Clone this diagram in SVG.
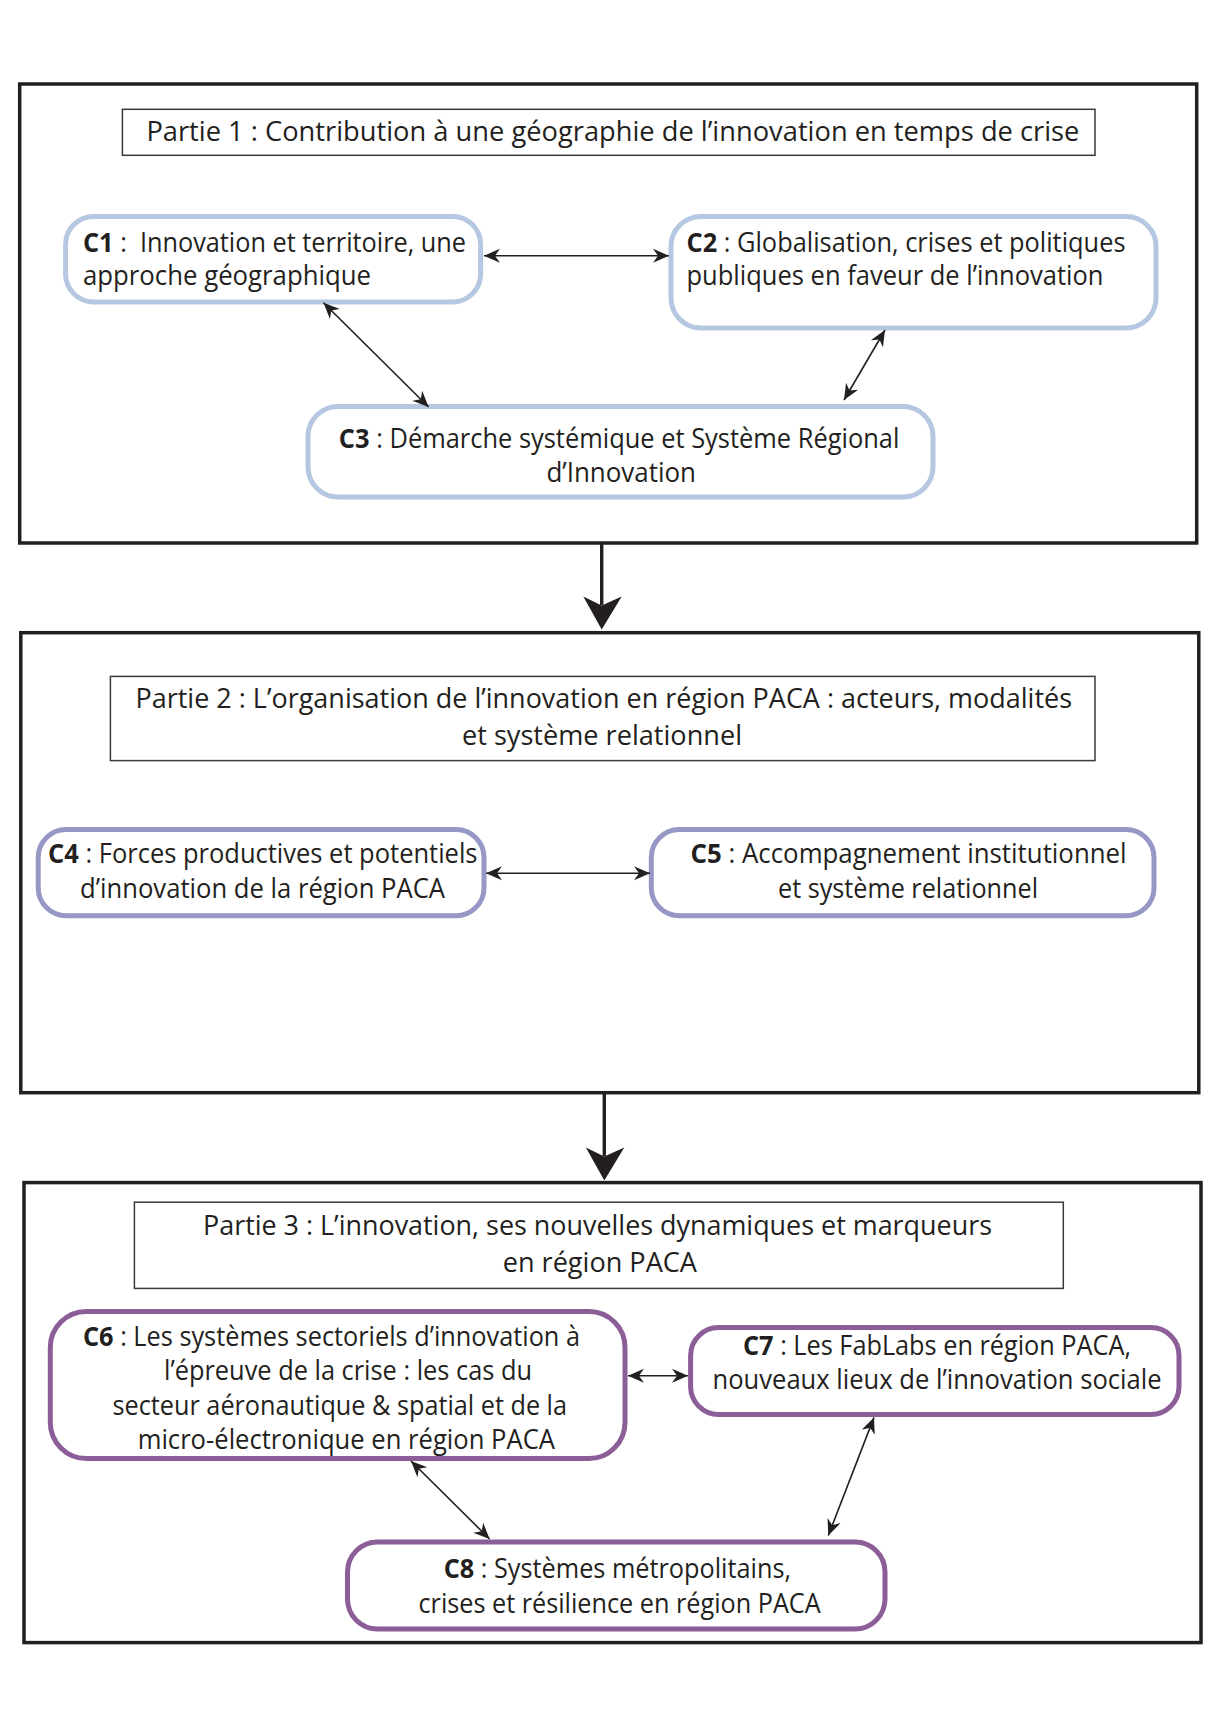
<svg xmlns="http://www.w3.org/2000/svg" width="1213" height="1714" viewBox="0 0 1213 1714">
<style>
.part{fill:none;stroke:#231f20;stroke-width:3.5}
.title{fill:#fff;stroke:#3a3a3a;stroke-width:1.5}
.c{fill:#fff;stroke-width:5}
.blue{stroke:#b6c8e1}
.lav{stroke:#9797c6}
.pur{stroke:#8c5e97}
text{font-family:"Open Sans","Liberation Sans",sans-serif;font-size:27px;fill:#231f20}
.b{font-weight:bold}
.conn{fill:none;stroke:#231f20;stroke-width:1.6}
.big{fill:none;stroke:#231f20;stroke-width:3.4}
</style>
<defs>
<marker id="ah" viewBox="-17 -8 19 16" markerWidth="19" markerHeight="16" refX="0" refY="0" orient="auto-start-reverse" markerUnits="userSpaceOnUse">
<path d="M0,0 L-16,-7 L-11,0 L-16,7 Z" fill="#231f20"/>
</marker>
</defs>
<rect width="1213" height="1714" fill="#fff"/>

<g id="partie1">
<rect class="part" x="19.7" y="84" width="1177" height="459"/>
<rect class="title" x="122.4" y="109.3" width="972.6" height="46"/>
<text x="146.4" y="141" textLength="933" lengthAdjust="spacingAndGlyphs">Partie 1 : Contribution à une géographie de l’innovation en temps de crise</text>
</g>
<g id="C1">
<rect class="c blue" x="65.6" y="216.4" width="415" height="85.5" rx="28"/>
<text x="83" y="251.5" textLength="383" lengthAdjust="spacingAndGlyphs"><tspan class="b">C1</tspan> :&#160; Innovation et territoire, une</text>
<text x="83" y="285" textLength="288" lengthAdjust="spacingAndGlyphs">approche géographique</text>
</g>
<g id="C2">
<rect class="c blue" x="671" y="216.4" width="485" height="111.6" rx="30"/>
<text x="686.5" y="251.5" textLength="439" lengthAdjust="spacingAndGlyphs"><tspan class="b">C2</tspan> : Globalisation, crises et politiques</text>
<text x="686.5" y="285" textLength="417" lengthAdjust="spacingAndGlyphs">publiques en faveur de l’innovation</text>
</g>
<g id="C3">
<rect class="c blue" x="308" y="406.5" width="625" height="90.5" rx="30"/>
<text x="338.8" y="448" textLength="560.6" lengthAdjust="spacingAndGlyphs"><tspan class="b">C3</tspan> : Démarche systémique et Système Régional</text>
<text x="546.4" y="482" textLength="149.6" lengthAdjust="spacingAndGlyphs">d’Innovation</text>
</g>

<g id="partie2">
<rect class="part" x="20.8" y="632.7" width="1178" height="460"/>
<rect class="title" x="110.4" y="676.4" width="984.6" height="84.2"/>
<text x="135.5" y="708" textLength="936.5" lengthAdjust="spacingAndGlyphs">Partie 2 : L’organisation de l’innovation en région PACA : acteurs, modalités</text>
<text x="462" y="745" textLength="280" lengthAdjust="spacingAndGlyphs">et système relationnel</text>
</g>
<g id="C4">
<rect class="c lav" x="38.2" y="829.6" width="445.8" height="86.2" rx="28"/>
<text x="48" y="863" textLength="429.5" lengthAdjust="spacingAndGlyphs"><tspan class="b">C4</tspan> : Forces productives et potentiels</text>
<text x="80" y="898" textLength="365" lengthAdjust="spacingAndGlyphs">d’innovation de la région PACA</text>
</g>
<g id="C5">
<rect class="c lav" x="651.3" y="829.6" width="502.7" height="86.2" rx="28"/>
<text x="690.6" y="863" textLength="436" lengthAdjust="spacingAndGlyphs"><tspan class="b">C5</tspan> : Accompagnement institutionnel</text>
<text x="778" y="898" textLength="260" lengthAdjust="spacingAndGlyphs">et système relationnel</text>
</g>

<g id="partie3">
<rect class="part" x="24" y="1182.6" width="1177" height="460"/>
<rect class="title" x="134.4" y="1202.2" width="928.9" height="86.2"/>
<text x="203" y="1235" textLength="789" lengthAdjust="spacingAndGlyphs">Partie 3 : L’innovation, ses nouvelles dynamiques et marqueurs</text>
<text x="502.7" y="1272" textLength="194.3" lengthAdjust="spacingAndGlyphs">en région PACA</text>
</g>
<g id="C6">
<rect class="c pur" x="50.3" y="1311.5" width="574.7" height="147" rx="36"/>
<text x="83" y="1346" textLength="497" lengthAdjust="spacingAndGlyphs"><tspan class="b">C6</tspan> : Les systèmes sectoriels d’innovation à</text>
<text x="164" y="1380" textLength="368" lengthAdjust="spacingAndGlyphs">l’épreuve de la crise : les cas du</text>
<text x="112.6" y="1415" textLength="454.4" lengthAdjust="spacingAndGlyphs">secteur aéronautique &amp; spatial et de la</text>
<text x="137.7" y="1449" textLength="417.3" lengthAdjust="spacingAndGlyphs">micro-électronique en région PACA</text>
</g>
<g id="C7">
<rect class="c pur" x="690.6" y="1327.5" width="488.4" height="87" rx="28"/>
<text x="743" y="1355" textLength="388" lengthAdjust="spacingAndGlyphs"><tspan class="b">C7</tspan> : Les FabLabs en région PACA,</text>
<text x="712.5" y="1389" textLength="449" lengthAdjust="spacingAndGlyphs">nouveaux lieux de l’innovation sociale</text>
</g>
<g id="C8">
<rect class="c pur" x="347.5" y="1542" width="537.5" height="87" rx="30"/>
<text x="443.7" y="1578" textLength="347.3" lengthAdjust="spacingAndGlyphs"><tspan class="b">C8</tspan> : Systèmes métropolitains,</text>
<text x="418.5" y="1613" textLength="402.2" lengthAdjust="spacingAndGlyphs">crises et résilience en région PACA</text>
</g>

<g id="connectors">
<line class="conn" x1="484" y1="255.7" x2="669" y2="255.7" marker-start="url(#ah)" marker-end="url(#ah)"/>
<line class="conn" x1="323.5" y1="302.7" x2="428.6" y2="407" marker-start="url(#ah)" marker-end="url(#ah)"/>
<line class="conn" x1="885" y1="330" x2="844" y2="400" marker-start="url(#ah)" marker-end="url(#ah)"/>
<line class="conn" x1="486" y1="873.2" x2="650" y2="873.2" marker-start="url(#ah)" marker-end="url(#ah)"/>
<line class="conn" x1="628" y1="1375.8" x2="688" y2="1375.8" marker-start="url(#ah)" marker-end="url(#ah)"/>
<line class="conn" x1="411" y1="1461" x2="489.6" y2="1539" marker-start="url(#ah)" marker-end="url(#ah)"/>
<line class="conn" x1="874" y1="1417.4" x2="828.3" y2="1535.5" marker-start="url(#ah)" marker-end="url(#ah)"/>
<line class="big" x1="601.7" y1="543" x2="601.7" y2="605"/>
<path d="M601.7,629.5 L583.3,596.5 L601.7,605.5 L621.7,596.5 Z" fill="#231f20"/>
<line class="big" x1="604.3" y1="1093" x2="604.3" y2="1156"/>
<path d="M604.3,1180.5 L585.9,1147.5 L604.3,1156.5 L624.3,1147.5 Z" fill="#231f20"/>
</g>
</svg>
